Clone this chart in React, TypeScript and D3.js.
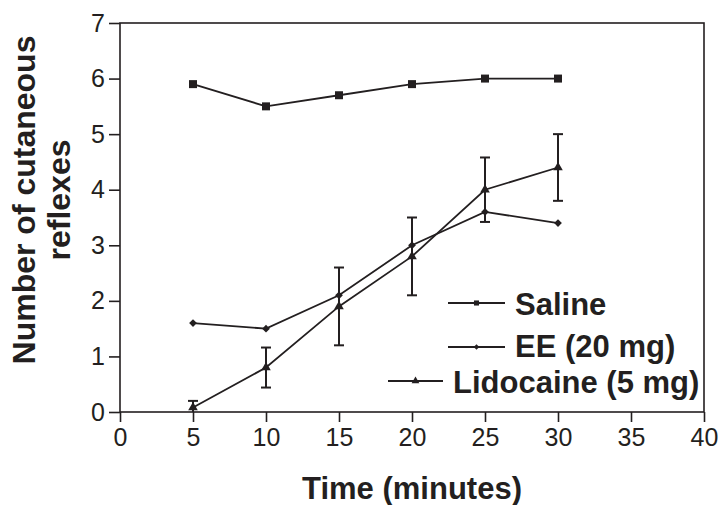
import { useEffect, useRef } from "react";
import * as d3 from "d3";

// values
const times = [5, 10, 15, 20, 25, 30];
const saline = [5.9, 5.5, 5.7, 5.9, 6.0, 6.0];
const ee = [1.6, 1.5, 2.1, 3.0, 3.6, 3.4];
const lidocaine = [0.08, 0.8, 1.9, 2.8, 4.0, 4.4];
const lidocaineErr = [0.12, 0.36, 0.7, 0.7, 0.58, 0.6];
const xTicks = [0, 5, 10, 15, 20, 25, 30, 35, 40];
const yTicks = [0, 1, 2, 3, 4, 5, 6, 7];
const legendLabels = ["Saline", "EE (20 mg)", "Lidocaine (5 mg)"];

const INK = "#231f20";
const FONT = "'Liberation Sans', Arial, Helvetica, sans-serif";

export default function App() {
  const ref = useRef<SVGSVGElement>(null);

  useEffect(() => {
    const el = ref.current;
    if (!el) return;
    const W = 721, H = 505, M = { top: 23, right: 17, bottom: 93, left: 120 };
    const svg = d3.select(el).attr("viewBox", `0 0 ${W} ${H}`).attr("width", W).attr("height", H);
    svg.selectAll("*").remove();

    const x = d3.scaleLinear().domain([0, 40]).range([M.left, W - M.right]);
    const y = d3.scaleLinear().domain([0, 7]).range([H - M.bottom, M.top]);

    // frame
    svg.append("rect").attr("x", x(0)).attr("y", y(7)).attr("width", x(40) - x(0)).attr("height", y(0) - y(7))
      .attr("fill", "none").attr("stroke", INK).attr("stroke-width", 1.6);

    // axes
    const xAxis = svg.append("g").attr("transform", `translate(0,${y(0)})`)
      .call(d3.axisBottom(x).tickValues(xTicks).tickSize(10).tickPadding(4).tickFormat(d3.format("d")));
    const yAxis = svg.append("g").attr("transform", `translate(${x(0)},0)`)
      .call(d3.axisLeft(y).tickValues(yTicks).tickSize(11).tickPadding(4).tickFormat(d3.format("d")));
    [xAxis, yAxis].forEach((g) => {
      g.select(".domain").remove();
      g.selectAll("line").attr("stroke", INK).attr("stroke-width", 1.6);
      g.selectAll("text").attr("fill", INK).attr("font-size", 25).attr("font-family", FONT);
    });
    xAxis.selectAll("text").attr("dy", "0.71em").attr("y", 16);
    yAxis.selectAll("text").attr("x", -15);

    // titles
    svg.append("text").attr("x", (x(0) + x(40)) / 2).attr("y", 499).attr("text-anchor", "middle")
      .attr("fill", INK).attr("font-size", 31).attr("font-weight", "bold").attr("font-family", FONT).text("Time (minutes)");
    const yt = svg.append("text").attr("transform", "translate(35,200) rotate(-90)").attr("text-anchor", "middle")
      .attr("fill", INK).attr("font-size", 32).attr("font-weight", "bold").attr("font-family", FONT);
    yt.append("tspan").attr("x", 0).attr("y", 0).text("Number of cutaneous");
    yt.append("tspan").attr("x", 0).attr("y", 35).text("reflexes");

    const line = d3.line<number>().x((_d, i) => x(times[i])).y((d) => y(d));
    const series = [
      { v: saline, sym: d3.symbolSquare, size: 64, rot: 0, lsize: 26 },
      { v: ee, sym: d3.symbolSquare, size: 30, rot: 45, lsize: 16 },
      { v: lidocaine, sym: d3.symbolTriangle, size: 40, rot: 0, lsize: 26 },
    ];

    // error bars (lidocaine)
    const eb = svg.append("g").attr("stroke", INK).attr("stroke-width", 2);
    lidocaine.forEach((v, i) => {
      const cx = x(times[i]);
      const lo = Math.max(0, v - lidocaineErr[i]);
      const hi = v + lidocaineErr[i];
      eb.append("line").attr("x1", cx).attr("x2", cx).attr("y1", y(lo)).attr("y2", y(hi));
      eb.append("line").attr("x1", cx - 5).attr("x2", cx + 5).attr("y1", y(hi)).attr("y2", y(hi));
      if (v - lidocaineErr[i] > 0)
        eb.append("line").attr("x1", cx - 5).attr("x2", cx + 5).attr("y1", y(lo)).attr("y2", y(lo));
    });

    series.forEach((s) => {
      svg.append("path").datum(s.v).attr("fill", "none").attr("stroke", INK).attr("stroke-width", 1.8).attr("d", line as any);
      svg.append("g").selectAll("path").data(s.v).join("path")
        .attr("transform", (d, i) => `translate(${x(times[i])},${y(d)}) rotate(${s.rot})`)
        .attr("d", d3.symbol(s.sym, s.size)() as string).attr("fill", INK);
    });

    // legend
    const leg = [
      { x1: 448, x2: 505, ly: 303, tx: 515, ty: 315 },
      { x1: 448, x2: 505, ly: 347, tx: 515, ty: 357 },
      { x1: 388, x2: 443, ly: 381, tx: 453, ty: 393 },
    ];
    leg.forEach((l, i) => {
      const s = series[i];
      svg.append("line").attr("x1", l.x1).attr("x2", l.x2).attr("y1", l.ly).attr("y2", l.ly).attr("stroke", INK).attr("stroke-width", 1.8);
      svg.append("path").attr("transform", `translate(${(l.x1 + l.x2) / 2},${l.ly}) rotate(${s.rot})`)
        .attr("d", d3.symbol(s.sym, s.lsize)() as string).attr("fill", INK);
      svg.append("text").attr("x", l.tx).attr("y", l.ty).attr("fill", INK).attr("font-size", 31)
        .attr("font-weight", "bold").attr("font-family", FONT).text(legendLabels[i]);
    });
  }, []);

  return (
    <svg ref={ref} role="img" aria-label="Number of cutaneous reflexes over time"
      style={{ position: "absolute", left: 0, top: 0, background: "#fff" }} />
  );
}
